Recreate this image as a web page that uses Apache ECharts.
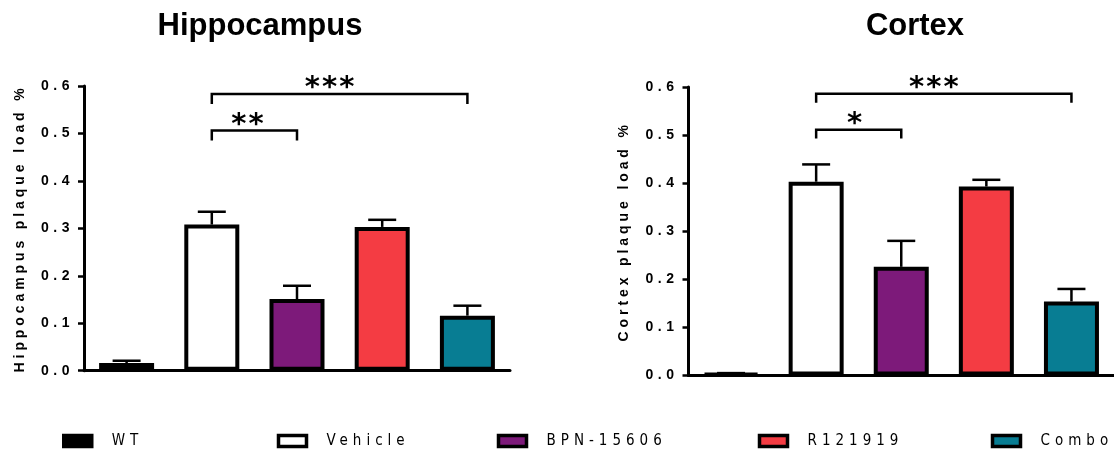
<!DOCTYPE html>
<html>
<head>
<meta charset="utf-8">
<script src="https://cdn.jsdelivr.net/npm/echarts@6/dist/echarts.min.js"></script>
<style>
html,body{margin:0;padding:0;background:#fff;}
#chart{width:1114px;height:450px;}
</style>
</head>
<body>
<div id="chart"></div>
<script>
// ---- letter spacing support: a font-family token "lsNN" means NN/10 px spacing ----
(function () {
  var P = CanvasRenderingContext2D.prototype;
  function apply(ctx) {
    var m = /\bls(\d+)\b/.exec(ctx.font || '');
    try { ctx.letterSpacing = m ? (m[1] / 10) + 'px' : '0px'; } catch (e) {}
  }
  var f = P.fillText, s = P.strokeText, mt = P.measureText;
  P.fillText = function () { apply(this); return f.apply(this, arguments); };
  P.strokeText = function () { apply(this); return s.apply(this, arguments); };
  P.measureText = function () { apply(this); return mt.apply(this, arguments); };
})();

// ---------------- data ----------------
const categories = ['WT', 'Vehicle', 'BPN-15606', 'R121919', 'Combo'];
const hippoMean = [0.016, 0.308, 0.151, 0.303, 0.116];
const hippoErr  = [0.005, 0.027, 0.028, 0.015, 0.021];
const cortexMean = [0.004, 0.403, 0.226, 0.393, 0.154];
const cortexErr  = [0.001, 0.036, 0.054, 0.014, 0.026];
const barColors = ['#000000', '#ffffff', '#7d1a7a', '#f43c43', '#087d93'];
// brackets: [fromCategoryIndex, toCategoryIndex, topValue, endValue, label]
const hippoBrackets  = [[1, 2, 0.506, 0.485, '**'], [1, 4, 0.583, 0.562, '***']];
const cortexBrackets = [[1, 2, 0.511, 0.493, '*'],  [1, 4, 0.586, 0.567, '***']];
const titles = ['Hippocampus', 'Cortex'];
const yNames = ['Hippocampus plaque load %', 'Cortex plaque load %'];
const yMin = 0, yMax = 0.6, yStep = 0.1;

// ---------------- styles / layout ----------------
const SPACED_BOLD = 'ls45, "Liberation Sans", Arial, sans-serif';
const NAME_FONT = 'ls39, "Liberation Sans", Arial, sans-serif';
const LEGEND_FONT = 'ls50, "Liberation Sans Narrow", "Arial Narrow", "DejaVu Sans Condensed", "Liberation Sans", sans-serif';
const STAR_FONT = 'ls20, "DejaVu Sans", sans-serif';
const grids = [
  { left: 84, top: 86, width: 426, bottom: 79.3 },
  { left: 688.5, top: 87, right: -9, bottom: 74.5 }
];
const titlePos = [260, 915];
const legendLeft = [62, 276.75, 496.75, 757.75, 990.75];

const charts = [
  { mean: hippoMean, err: hippoErr, brackets: hippoBrackets },
  { mean: cortexMean, err: cortexErr, brackets: cortexBrackets }
];

const series = [];
charts.forEach(function (c, k) {
  categories.forEach(function (name, i) {
    series.push({
      name: name,
      type: 'bar',
      xAxisIndex: k, yAxisIndex: k,
      stack: 'grp' + k,
      barWidth: 55,
      z: 3,
      itemStyle: { color: barColors[i], borderColor: '#000', borderWidth: 4 },
      emphasis: { disabled: true },
      data: c.mean.map(function (v, j) { return j === i ? v : '-'; })
    });
  });
  // error bars
  series.push({
    name: 'err' + k,
    type: 'custom',
    xAxisIndex: k, yAxisIndex: k,
    z: 2,
    silent: true,
    data: c.mean.map(function (m, j) { return [j, m, c.err[j]]; }),
    encode: { x: 0, y: 1 },
    renderItem: function (params, api) {
      var x = api.value(0), m = api.value(1), e = api.value(2);
      var p0 = api.coord([x, m]);
      var p1 = api.coord([x, m + e]);
      var st = { stroke: '#000', lineWidth: 2.5 };
      return {
        type: 'group',
        children: [
          { type: 'line', shape: { x1: p0[0], y1: p0[1], x2: p1[0], y2: p1[1] }, style: st },
          { type: 'line', shape: { x1: p1[0] - 14, y1: p1[1], x2: p1[0] + 14, y2: p1[1] }, style: st }
        ]
      };
    }
  });
  // significance brackets
  series.push({
    name: 'sig' + k,
    type: 'custom',
    xAxisIndex: k, yAxisIndex: k,
    z: 4,
    silent: true,
    data: c.brackets.map(function (b) { return [b[0], b[1], b[2], b[3]]; }),
    encode: { x: [0, 1], y: [2, 3] },
    renderItem: function (params, api) {
      var b = c.brackets[params.dataIndex];
      var a1 = api.coord([api.value(0), api.value(3)]);
      var t1 = api.coord([api.value(0), api.value(2)]);
      var t2 = api.coord([api.value(1), api.value(2)]);
      var a2 = api.coord([api.value(1), api.value(3)]);
      var mid = (t1[0] + t2[0]) / 2 - 3 * b[4].length;
      return {
        type: 'group',
        children: [
          { type: 'polyline', shape: { points: [a1, t1, t2, a2] },
            style: { stroke: '#000', lineWidth: 2.5, fill: null } },
          { type: 'text', x: mid, y: t1[1] + 10,
            style: { text: b[4], fill: '#000', fontSize: 29, fontWeight: 'bold', fontFamily: STAR_FONT,
                     textAlign: 'center', textVerticalAlign: 'bottom' } }
        ]
      };
    }
  });
});

const option = {
  backgroundColor: '#fff',
  animation: false,
  title: titles.map(function (t, k) {
    return {
      text: t, left: titlePos[k], top: 11, textAlign: 'center', padding: 0,
      textStyle: { fontFamily: '"Liberation Sans", Arial, sans-serif', fontWeight: 'bold', fontSize: 31, color: '#000' }
    };
  }),
  grid: grids,
  xAxis: grids.map(function (g, k) {
    return {
      type: 'category', gridIndex: k, data: categories,
      axisLine: { lineStyle: { color: '#000', width: 3 } },
      axisTick: { show: false }, axisLabel: { show: false }, splitLine: { show: false }
    };
  }),
  yAxis: grids.map(function (g, k) {
    return {
      type: 'value', gridIndex: k, min: yMin, max: yMax, interval: yStep,
      name: yNames[k], nameLocation: 'middle', nameGap: 55,
      nameTextStyle: { fontFamily: NAME_FONT, fontWeight: 'bold', fontSize: 14, color: '#000' },
      axisLine: { show: true, lineStyle: { color: '#000', width: 3 } },
      axisTick: { show: true, length: 6, lineStyle: { color: '#000', width: 2.5 } },
      axisLabel: { formatter: function (v) { return v.toFixed(1); }, margin: 10,
        fontFamily: SPACED_BOLD, fontWeight: 'bold', fontSize: 14, color: '#000' },
      splitLine: { show: false }
    };
  }),
  legend: categories.map(function (name, i) {
    return {
      data: [{ name: name, icon: 'rect' }],
      left: legendLeft[i], top: 431, padding: 0,
      itemWidth: 28, itemHeight: 11,
      selectedMode: false,
      itemStyle: { borderColor: '#000', borderWidth: 3.5 },
      textStyle: { fontFamily: LEGEND_FONT, fontSize: 15, color: '#000', padding: [0, 0, 0, 15] }
    };
  }),
  series: series
};

const chart = echarts.init(document.getElementById('chart'), null, { renderer: 'canvas' });
chart.setOption(option);
</script>
</body>
</html>
